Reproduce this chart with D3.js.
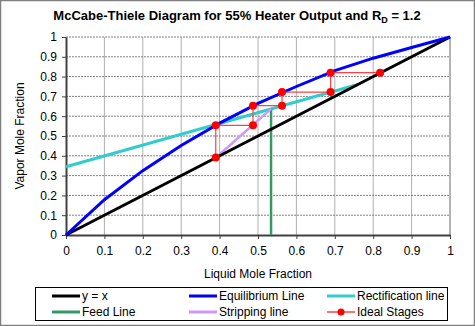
<!DOCTYPE html>
<html><head><meta charset="utf-8">
<script src="https://cdn.jsdelivr.net/npm/d3@7"></script>
<style>body{margin:0;background:#fff}svg{display:block;font-family:"Liberation Sans",Arial,sans-serif}</style>
</head><body><svg id="c" width="475" height="326"></svg>
<script>
const ticks = [0,0.1,0.2,0.3,0.4,0.5,0.6,0.7,0.8,0.9,1];
const diagX = [0,1], diagY = [0,1];
const eqX = [0,0.1,0.2,0.3,0.4,0.5,0.6,0.7,0.8,0.9,1];
const eqY = [0,0.178,0.325,0.452,0.565,0.665,0.75,0.83,0.893,0.947,1];
const rectX = [0,0.76], rectY = [0.345,0.76];
const feedX = [0.534,0.534], feedY = [0,0.637];
const stripX = [0.39,0.534], stripY = [0.39,0.637];
const stageX = [0.818,0.689,0.689,0.5625,0.5625,0.487,0.487,0.39,0.39];
const stageY = [0.82,0.82,0.722,0.722,0.653,0.653,0.554,0.554,0.392];

const svg = d3.select("#c");
svg.append("rect").attr("x",0.5).attr("y",0.5).attr("width",474).attr("height",325).attr("fill","#fff").attr("stroke","#808080").attr("stroke-width",1.5);
const L=66,R=450,T=37,B=235;
const x = d3.scaleLinear().domain([0,1]).range([L,R]);
const y = d3.scaleLinear().domain([0,1]).range([B,T]);

// grid
svg.append("g").selectAll("line").data(ticks.slice(1)).join("line")
 .attr("x1",d=>x(d)).attr("x2",d=>x(d)).attr("y1",T).attr("y2",B).attr("stroke","#b0b0b0").attr("stroke-width",1);
svg.append("g").selectAll("line").data(ticks.slice(1)).join("line")
 .attr("x1",L).attr("x2",R).attr("y1",d=>y(d)).attr("y2",d=>y(d)).attr("stroke","#808080").attr("stroke-width",1).attr("stroke-dasharray","2,1");
svg.append("line").attr("x1",R).attr("x2",R).attr("y1",T).attr("y2",B).attr("stroke","#909090");

// axes
const xa = svg.append("g").attr("transform",`translate(0,${B})`).call(d3.axisBottom(x).tickValues(ticks).tickFormat(d3.format("")).tickSize(4).tickSizeOuter(0));
const ya = svg.append("g").attr("transform",`translate(${L},0)`).call(d3.axisLeft(y).tickValues(ticks).tickFormat(d3.format("")).tickSize(4).tickSizeOuter(0));
[xa,ya].forEach(a=>{a.select(".domain").attr("stroke","#404040").attr("stroke-width",2);
 a.selectAll(".tick line").attr("stroke","#404040");
 a.selectAll("text").attr("font-size",12).attr("fill","#000").attr("font-family","Liberation Sans, Arial, sans-serif");});
xa.selectAll("text").attr("dy","1.1em");
ya.selectAll("text").attr("dx","-2");

const line = d3.line().x(d=>x(d[0])).y(d=>y(d[1]));
const zip=(a,b)=>a.map((v,i)=>[v,b[i]]);
const g = svg.append("g");
g.append("path").attr("d",line(zip(rectX,rectY))).attr("fill","none").attr("stroke","#33cccc").attr("stroke-width",3);
g.append("path").attr("d",line(zip(feedX,feedY))).attr("fill","none").attr("stroke","#339966").attr("stroke-width",2.5);
g.append("path").attr("d",line(zip(stripX,stripY))).attr("fill","none").attr("stroke","#cc99ff").attr("stroke-width",2.5);
g.append("path").attr("d",line(zip(diagX,diagY))).attr("fill","none").attr("stroke","#000").attr("stroke-width",3);
g.append("path").attr("d",line(zip(eqX,eqY))).attr("fill","none").attr("stroke","#0000ff").attr("stroke-width",3);
g.append("path").attr("d",line(zip(stageX,stageY))).attr("fill","none").attr("stroke","#ff4040").attr("stroke-width",1.2);
g.selectAll("circle").data(zip(stageX,stageY)).join("circle").attr("cx",d=>x(d[0])).attr("cy",d=>y(d[1])).attr("r",4).attr("fill","#ff0000");

// title
const t = svg.append("text").attr("x",237).attr("y",20).attr("text-anchor","middle").attr("font-size",13).attr("font-weight","bold");
t.append("tspan").text("McCabe-Thiele Diagram for 55% Heater Output and R");
t.append("tspan").attr("font-size",9).attr("dy",3).text("D");
t.append("tspan").attr("dy",-3).text(" = 1.2");

svg.append("text").attr("transform",`translate(24,${(T+B)/2}) rotate(-90)`).attr("text-anchor","middle").attr("font-size",12).text("Vapor Mole Fraction");
svg.append("text").attr("x",(L+R)/2).attr("y",278).attr("text-anchor","middle").attr("font-size",12).text("Liquid Mole Fraction");

// legend
const leg = svg.append("g");
leg.append("rect").attr("x",35.5).attr("y",287.5).attr("width",412).attr("height",33).attr("fill","#fff").attr("stroke","#000");
const items = [
 {n:"y = x",c:"#000",col:0,row:0},{n:"Equilibrium Line",c:"#0000ff",col:1,row:0},{n:"Rectification line",c:"#33cccc",col:2,row:0},
 {n:"Feed Line",c:"#339966",col:0,row:1},{n:"Stripping line",c:"#cc99ff",col:1,row:1},{n:"Ideal Stages",c:"#ff7070",col:2,row:1,dot:true}];
const colX=[52,189,327];
items.forEach(it=>{
 const lx=colX[it.col], ly=296+it.row*16;
 leg.append("line").attr("x1",lx).attr("x2",lx+28).attr("y1",ly).attr("y2",ly).attr("stroke",it.c).attr("stroke-width",it.dot?2:3);
 if(it.dot) leg.append("circle").attr("cx",lx+14).attr("cy",ly).attr("r",3.5).attr("fill","#ff0000");
 leg.append("text").attr("x",lx+30).attr("y",ly+4).attr("font-size",12).text(it.n);
});
</script></body></html>
